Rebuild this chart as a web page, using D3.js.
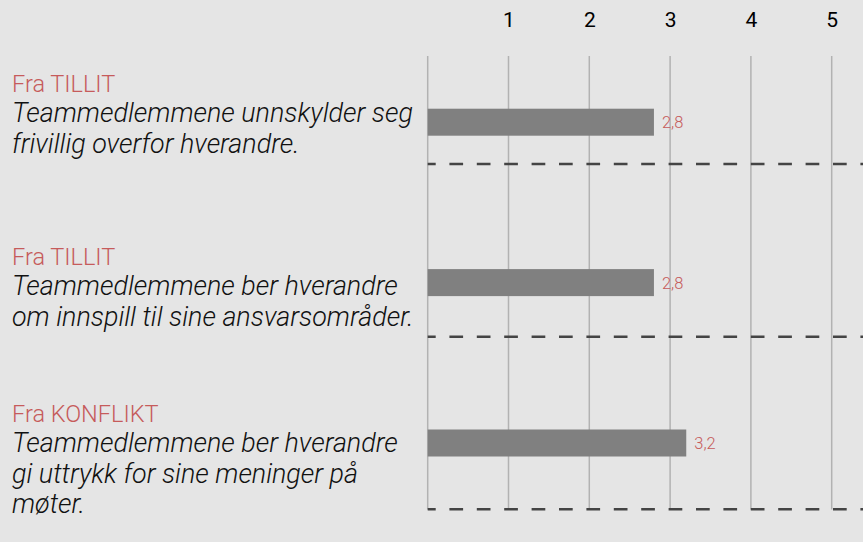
<!DOCTYPE html>
<html>
<head>
<meta charset="utf-8">
<script src="https://cdn.jsdelivr.net/npm/d3@7"></script>
<style>
  html, body { margin: 0; padding: 0; background: #e5e5e5; }
  svg { display: block; }
</style>
</head>
<body>
<svg id="chart" width="863" height="542"></svg>
<script>
// ---- data ----
const categories = ["Fra TILLIT", "Fra TILLIT", "Fra KONFLIKT"];
const statements = [
  ["Teammedlemmene unnskylder seg", "frivillig overfor hverandre."],
  ["Teammedlemmene ber hverandre", "om innspill til sine ansvarsområder."],
  ["Teammedlemmene ber hverandre", "gi uttrykk for sine meninger på", "møter."]
];
const values = [2.8, 2.8, 3.2];
const tickLabels = [1, 2, 3, 4, 5];

// ---- layout ----
const W = 863, H = 542;
const FONT = "Roboto, 'Liberation Sans', Arial, sans-serif";
const red = "#c65b5b";
const svg = d3.select("#chart");
svg.append("rect").attr("width", W).attr("height", H).attr("fill", "#e5e5e5");

const x = d3.scaleLinear().domain([0, 5]).range([427.7, 831.7]);
const yBar = d3.scaleLinear().domain([0, categories.length - 1]).range([122.2, 443]);
const ySep = d3.scaleLinear().domain([0, categories.length - 1]).range([164, 509.3]);
const headerBaseline = [92, 265, 422];
const lineH = 30.3;
const barH = 27;
const gridTop = 56, gridBottom = 509.5;

const locale = d3.formatLocale({decimal: ",", thousands: " ", grouping: [3], currency: ["", " kr"]});
const fmt = locale.format(".1f");

// grid lines
svg.append("g").selectAll("line").data(d3.range(0, 6)).join("line")
  .attr("x1", d => x(d)).attr("x2", d => x(d))
  .attr("y1", gridTop).attr("y2", gridBottom)
  .attr("stroke", "#b2b2b2").attr("stroke-width", 1.5);

// top axis labels
const axis = d3.axisTop(x).tickValues(tickLabels).tickSize(0).tickPadding(0).tickFormat(d3.format("d"));
const ax = svg.append("g").attr("transform", "translate(0,27)").call(axis);
ax.select(".domain").remove();
ax.selectAll("text").attr("font-family", FONT).attr("font-size", 21).attr("fill", "#000")
  .attr("dy", 0);

// dashed separators
svg.append("g").selectAll("line").data(d3.range(categories.length)).join("line")
  .attr("x1", x(0)).attr("x2", W)
  .attr("y1", d => ySep(d)).attr("y2", d => ySep(d))
  .attr("stroke", "#444").attr("stroke-width", 2.5)
  .attr("stroke-dasharray", "13.7,13.7").attr("stroke-dashoffset", 5.7);

// bars
svg.append("g").selectAll("rect").data(values).join("rect")
  .attr("x", x(0)).attr("y", (d, i) => yBar(i) - barH / 2)
  .attr("width", d => x(d) - x(0)).attr("height", barH)
  .attr("fill", "#808080");

// value labels
svg.append("g").selectAll("text").data(values).join("text")
  .attr("x", d => x(d) + 8).attr("y", (d, i) => yBar(i)).attr("dy", "0.36em")
  .attr("font-family", FONT).attr("font-size", 16.5).attr("font-weight", 300)
  .attr("fill", red).text(d => fmt(d));

// left labels
const lg = svg.append("g").attr("font-family", FONT).attr("font-weight", 300);
lg.selectAll("text.h").data(categories).join("text").attr("class", "h")
  .attr("x", 12).attr("y", (d, i) => headerBaseline[i])
  .attr("font-size", 23.5).attr("fill", red).text(d => d);
const descs = [];
statements.forEach((lines, i) => {
  lines.forEach((t, j) => {
    descs.push(lg.append("text").attr("x", 12)
      .attr("y", headerBaseline[i] + lineH * (j + 1))
      .attr("font-size", 24).attr("font-style", "italic").attr("fill", "#111").text(t));
  });
});
// fit description font size to reference line width
const dw = descs[0].node().getComputedTextLength();
descs.forEach(s => s.attr("font-size", 24 * 401 / dw));
</script>
</body>
</html>
